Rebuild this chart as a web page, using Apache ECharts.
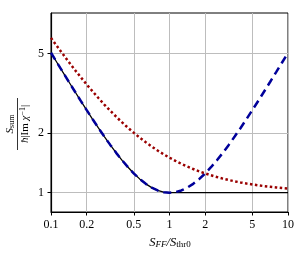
<!DOCTYPE html>
<html>
<head>
<meta charset="utf-8">
<script src="https://cdn.jsdelivr.net/npm/echarts@6/dist/echarts.min.js"></script>
<style>html,body{margin:0;padding:0;background:#fff;}#c{width:298px;height:253px;}</style>
</head>
<body>
<div id="c"></div>
<script>
// x values (S_FF / S_thr0)
const xVals = [0.1,0.1122,0.1259,0.1413,0.1585,0.1778,0.1995,0.2239,0.2512,0.2818,0.3162,0.3548,0.3981,0.4467,0.5012,0.5623,0.631,0.7079,0.7943,0.8913,1,
  1.122,1.259,1.413,1.585,1.778,1.995,2.239,2.512,2.818,3.162,3.548,3.981,4.467,5.012,5.623,6.31,7.079,7.943,8.913,10];
// blue dashed curve
const blueVals = [5.05,4.513,4.034,3.61,3.234,2.9,2.606,2.345,2.116,1.915,1.739,1.586,1.455,1.343,1.248,1.17,1.108,1.0602,1.0267,1.0066,1.0,
  1.0066,1.0267,1.0602,1.108,1.17,1.248,1.343,1.455,1.586,1.739,1.915,2.116,2.345,2.606,2.9,3.234,3.61,4.034,4.513,5.05];
// black solid curve
const blackVals = [5.05,4.513,4.034,3.61,3.234,2.9,2.606,2.345,2.116,1.915,1.739,1.586,1.455,1.343,1.248,1.17,1.108,1.0602,1.0267,1.0066,1.0,
  1.0,1.0,1.0,1.0,1.0,1.0,1.0,1.0,1.0,1.0,1.0,1.0,1.0,1.0,1.0,1.0,1.0,1.0,1.0,1.0];
// red dotted curve
const redVals = [6.0,5.456,4.972,4.54,4.155,3.812,3.506,3.234,2.991,2.774,2.581,2.409,2.256,2.119,1.998,1.889,1.792,1.706,1.629,1.561,1.5,
  1.446,1.397,1.354,1.316,1.281,1.251,1.223,1.199,1.177,1.158,1.141,1.126,1.112,1.1,1.089,1.079,1.071,1.063,1.056,1.05];
const xTicks = [0.1,0.2,0.5,1,2,5,10];
const yTicks = [1,2,5];

const pair = (ys) => xVals.map((x, i) => [x, ys[i]]);
const serif = 'Liberation Serif';
const fmt = v => String(+(+v).toPrecision(3));

const chart = echarts.init(document.getElementById('c'), null, {renderer: 'canvas'});
const axisCommon = {
  type: 'log', logBase: 10,
  axisLine: {show: true, onZero: false, lineStyle: {color: '#000', width: 1.2}},
  splitLine: {show: true, lineStyle: {color: '#bdbdbd', width: 1}},
  minorTick: {show: false}, minorSplitLine: {show: false}
};
chart.setOption({
  animation: false,
  grid: {left: 51, right: 10, top: 13, bottom: 41, show: true, borderColor: '#000', borderWidth: 1, backgroundColor: 'transparent'},
  xAxis: Object.assign({}, axisCommon, {
    min: 0.1, max: 10,
    axisTick: {show: true, customValues: xTicks, length: 3.5, lineStyle: {color: '#000', width: 1}},
    axisLabel: {customValues: xTicks, formatter: fmt, fontFamily: serif, fontSize: 12, color: '#000', margin: 7}
  }),
  yAxis: Object.assign({}, axisCommon, {
    min: 0.8, max: 8,
    axisTick: {show: true, customValues: yTicks, length: 3.5, lineStyle: {color: '#000', width: 1}},
    axisLabel: {customValues: yTicks, formatter: fmt, fontFamily: serif, fontSize: 12, color: '#000', margin: 7}
  }),
  series: [
    {type: 'line', data: pair(blackVals), showSymbol: false, symbol: 'none', lineStyle: {color: '#000', width: 1.3}, z: 2},
    {type: 'line', data: pair(blueVals), showSymbol: false, symbol: 'none', lineStyle: {color: '#00009a', width: 2.5, type: [8, 5]}, z: 3},
    {type: 'line', data: pair(redVals), showSymbol: false, symbol: 'none', lineStyle: {color: '#9a0000', width: 2.5, type: [2.5, 2.5]}, z: 4}
  ],
  graphic: [
    {
      type: 'group', x: 17.5, y: 124, rotation: Math.PI / 2,
      children: [
        {type: 'line', shape: {x1: -26, y1: 0, x2: 26, y2: 0}, style: {stroke: '#000', lineWidth: 0.8}},
        {type: 'text', x: 0, y: -1.5, style: {
          text: '{i|S}{sub|sum}', align: 'center', verticalAlign: 'bottom',
          rich: {
            i: {fontFamily: serif, fontStyle: 'italic', fontSize: 11, lineHeight: 12, fill: '#000'},
            sub: {fontFamily: serif, fontSize: 8, lineHeight: 8, padding: [5, 0, 0, 0], verticalAlign: 'bottom', fill: '#000'}
          }}},
        {type: 'text', x: 0, y: 1.5, style: {
          text: '{i|ħ}{n||Im }{i|χ}{sup|−1}{n||}', align: 'center', verticalAlign: 'top',
          rich: {
            i: {fontFamily: serif, fontStyle: 'italic', fontSize: 11, lineHeight: 12, fill: '#000'},
            n: {fontFamily: serif, fontSize: 11, lineHeight: 12, fill: '#000'},
            sup: {fontFamily: serif, fontSize: 8, lineHeight: 8, padding: [0, 0, 5, 0], verticalAlign: 'top', fill: '#000'}
          }}}
      ]
    },
    {
      type: 'text', x: 170, y: 243, style: {
        text: '{i|S}{si|FF}{n|/}{i|S}{sub|thr0}', align: 'center', verticalAlign: 'middle',
        rich: {
          i: {fontFamily: serif, fontStyle: 'italic', fontSize: 12.5, lineHeight: 13, fill: '#000'},
          n: {fontFamily: serif, fontStyle: 'italic', fontSize: 12.5, lineHeight: 13, fill: '#000'},
          si: {fontFamily: serif, fontStyle: 'italic', fontSize: 9, lineHeight: 8, padding: [5, 0, 0, 0], verticalAlign: 'bottom', fill: '#000'},
          sub: {fontFamily: serif, fontSize: 9, lineHeight: 8, padding: [5, 0, 0, 0], verticalAlign: 'bottom', fill: '#000'}
        }
      }
    }
  ]
});
</script>
</body>
</html>
